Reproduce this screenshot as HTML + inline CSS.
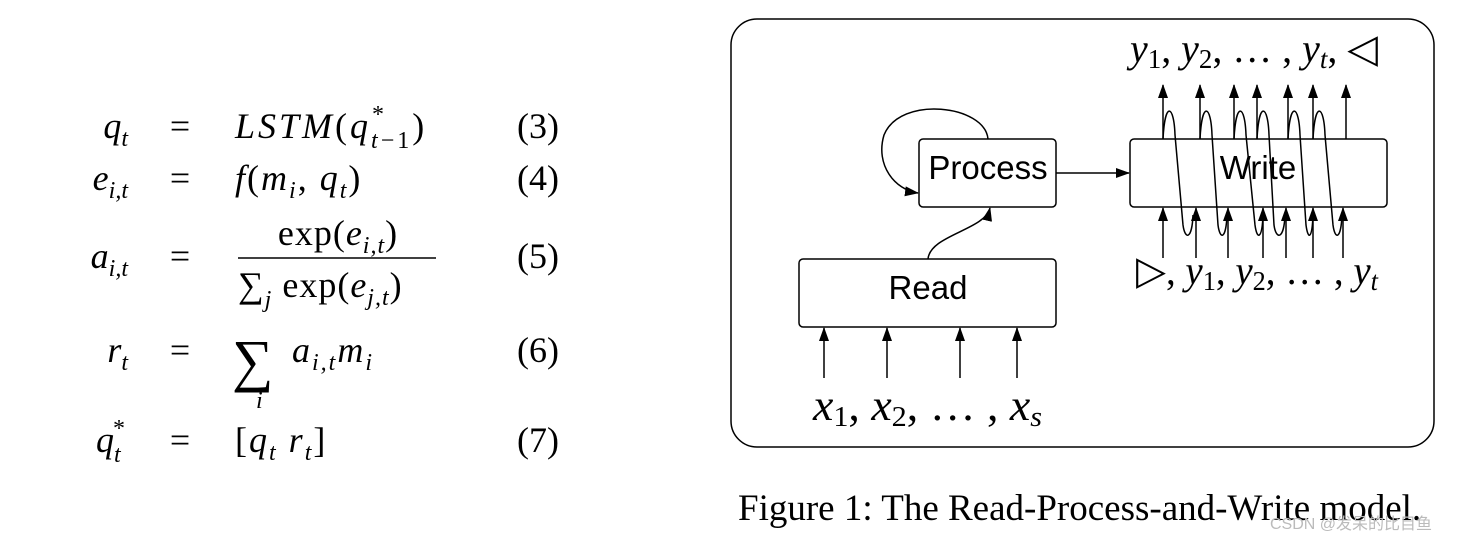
<!DOCTYPE html>
<html><head><meta charset="utf-8"><style>
body{margin:0;background:#fff;width:1484px;height:542px;overflow:hidden}
svg text{font-family:"Liberation Serif",serif}
.i{font-style:italic}
</style></head><body>
<svg width="1484" height="542" viewBox="0 0 1484 542" xmlns="http://www.w3.org/2000/svg">
<defs><marker id="a" markerWidth="14" markerHeight="10" refX="13" refY="5" orient="auto" markerUnits="userSpaceOnUse"><path d="M0,0 L14,5 L0,10 Z" fill="#000"/></marker></defs>
<!-- equations -->
<g font-size="36">
<text x="128" y="138" text-anchor="end" class="i">q<tspan font-size="24" dy="8">t</tspan></text>
<text x="180" y="138" text-anchor="middle">=</text>
<text x="235" y="138" letter-spacing="3"><tspan class="i">LSTM</tspan>(<tspan class="i">q</tspan><tspan font-size="24" dy="10" class="i">t</tspan><tspan font-size="24">−1</tspan><tspan dy="-10">)</tspan></text>
<text x="372" y="122" font-size="24">*</text>
<text x="538" y="138" text-anchor="middle">(3)</text>

<text x="128" y="190" text-anchor="end" class="i">e<tspan font-size="24" dy="8">i,t</tspan></text>
<text x="180" y="190" text-anchor="middle">=</text>
<text x="235" y="190" letter-spacing="2"><tspan class="i">f</tspan>(<tspan class="i">m</tspan><tspan font-size="24" dy="8" class="i">i</tspan><tspan dy="-8">, </tspan><tspan class="i">q</tspan><tspan font-size="24" dy="8" class="i">t</tspan><tspan dy="-8">)</tspan></text>
<text x="538" y="190" text-anchor="middle">(4)</text>

<text x="128" y="268" text-anchor="end" class="i">a<tspan font-size="24" dy="8">i,t</tspan></text>
<text x="180" y="268" text-anchor="middle">=</text>
<text x="338" y="245" text-anchor="middle" letter-spacing="1">exp(<tspan class="i">e</tspan><tspan font-size="24" dy="8" class="i">i,t</tspan><tspan dy="-8">)</tspan></text>
<line x1="238" y1="258" x2="436" y2="258" stroke="#000" stroke-width="1.5"/>
<text x="238" y="297" letter-spacing="1">∑<tspan font-size="24" dy="10" class="i">j</tspan><tspan dy="-10"> exp(</tspan><tspan class="i">e</tspan><tspan font-size="24" dy="8" class="i">j,t</tspan><tspan dy="-8">)</tspan></text>
<text x="538" y="268" text-anchor="middle">(5)</text>

<text x="128" y="362" text-anchor="end" class="i">r<tspan font-size="24" dy="8">t</tspan></text>
<text x="180" y="362" text-anchor="middle">=</text>
<text x="232" y="380" font-size="58">∑</text>
<text x="256" y="408" font-size="24" class="i">i</text>
<text x="292" y="362" letter-spacing="2"><tspan class="i">a</tspan><tspan font-size="24" dy="8" class="i">i,t</tspan><tspan dy="-8" class="i">m</tspan><tspan font-size="24" dy="8" class="i">i</tspan></text>
<text x="538" y="362" text-anchor="middle">(6)</text>

<text x="96" y="452" class="i">q<tspan font-size="24" dy="10">t</tspan></text>
<text x="113" y="436" font-size="24">*</text>
<text x="180" y="452" text-anchor="middle">=</text>
<text x="235" y="452" letter-spacing="2">[<tspan class="i">q</tspan><tspan font-size="24" dy="8" class="i">t</tspan><tspan dy="-8"> </tspan><tspan class="i">r</tspan><tspan font-size="24" dy="8" class="i">t</tspan><tspan dy="-8">]</tspan></text>
<text x="538" y="452" text-anchor="middle">(7)</text>
</g>

<!-- diagram -->
<rect x="731" y="19" width="703" height="428" rx="26" fill="none" stroke="#000" stroke-width="1.5"/>
<g fill="none" stroke="#000" stroke-width="1.5">
<rect x="919" y="139" width="137" height="68" rx="4"/>
<rect x="799" y="259" width="257" height="68" rx="4"/>
<rect x="1130" y="139" width="257" height="68" rx="4"/>
<line x1="824" y1="378" x2="824" y2="328" marker-end="url(#a)"/>
<line x1="887" y1="378" x2="887" y2="328" marker-end="url(#a)"/>
<line x1="960" y1="378" x2="960" y2="328" marker-end="url(#a)"/>
<line x1="1017" y1="378" x2="1017" y2="328" marker-end="url(#a)"/>
<path d="M928,259 C930,235 985,230 990,208" marker-end="url(#a)"/>
<path d="M988,139 C985,105 900,95 884,135 C875,165 895,190 918,193" marker-end="url(#a)"/>
<line x1="1056" y1="173" x2="1129" y2="173" marker-end="url(#a)"/>
<g>
<line x1="1163" y1="139" x2="1163" y2="85" marker-end="url(#a)"/>
<line x1="1200" y1="139" x2="1200" y2="85" marker-end="url(#a)"/>
<line x1="1234" y1="139" x2="1234" y2="85" marker-end="url(#a)"/>
<line x1="1257" y1="139" x2="1257" y2="85" marker-end="url(#a)"/>
<line x1="1288" y1="139" x2="1288" y2="85" marker-end="url(#a)"/>
<line x1="1313" y1="139" x2="1313" y2="85" marker-end="url(#a)"/>
<line x1="1346" y1="139" x2="1346" y2="85" marker-end="url(#a)"/>
<line x1="1163" y1="258" x2="1163" y2="208" marker-end="url(#a)"/>
<line x1="1196" y1="258" x2="1196" y2="208" marker-end="url(#a)"/>
<line x1="1228" y1="258" x2="1228" y2="208" marker-end="url(#a)"/>
<line x1="1263" y1="258" x2="1263" y2="208" marker-end="url(#a)"/>
<line x1="1286" y1="258" x2="1286" y2="208" marker-end="url(#a)"/>
<line x1="1313" y1="258" x2="1313" y2="208" marker-end="url(#a)"/>
<line x1="1343" y1="258" x2="1343" y2="208" marker-end="url(#a)"/>
<path d="M1163,139 C1165,100 1174,105 1175,135 L1183,225 C1185,240 1192,240 1193,215"/>
<path d="M1200,139 C1202,100 1211,105 1212,135 L1218,225 C1220,240 1226,240 1227,215"/>
<path d="M1234,139 C1236,100 1245,105 1246,135 L1255,225 C1257,240 1262,240 1263,215"/>
<path d="M1257,139 C1259,100 1268,105 1269,135 L1274,225 C1276,240 1284,240 1285,215"/>
<path d="M1288,139 C1290,100 1299,105 1300,135 L1306,225 C1308,240 1312,240 1313,215"/>
<path d="M1313,139 C1315,100 1324,105 1325,135 L1333,225 C1335,240 1341,240 1342,215"/>
</g>
</g>
<g font-size="33" text-anchor="middle">
<text x="988" y="179" style="font-family:'Liberation Sans',sans-serif">Process</text>
<text x="928" y="299" style="font-family:'Liberation Sans',sans-serif">Read</text>
<text x="1258" y="179" style="font-family:'Liberation Sans',sans-serif">Write</text>
</g>
<g font-size="40">
<text x="1130" y="62" textLength="248" lengthAdjust="spacingAndGlyphs"><tspan class="i">y</tspan><tspan font-size="27" dy="6">1</tspan><tspan dy="-6">, </tspan><tspan class="i">y</tspan><tspan font-size="27" dy="6">2</tspan><tspan dy="-6">, … , </tspan><tspan class="i">y</tspan><tspan font-size="27" dy="6" class="i">t</tspan><tspan dy="-6">, ◁</tspan></text>
<text x="1136" y="284" textLength="242" lengthAdjust="spacingAndGlyphs">▷, <tspan class="i">y</tspan><tspan font-size="27" dy="6">1</tspan><tspan dy="-6">, </tspan><tspan class="i">y</tspan><tspan font-size="27" dy="6">2</tspan><tspan dy="-6">, … , </tspan><tspan class="i">y</tspan><tspan font-size="27" dy="6" class="i">t</tspan></text>
</g>
<text x="813" y="420" font-size="44" textLength="229" lengthAdjust="spacingAndGlyphs"><tspan class="i">x</tspan><tspan font-size="29" dy="6">1</tspan><tspan dy="-6">, </tspan><tspan class="i">x</tspan><tspan font-size="29" dy="6">2</tspan><tspan dy="-6">, … , </tspan><tspan class="i">x</tspan><tspan font-size="29" dy="6" class="i">s</tspan></text>
<text x="738" y="520" font-size="37">Figure 1: The Read-Process-and-Write model.</text>
<text x="1270" y="529" font-size="16" fill="#bbb" style="font-family:'Liberation Sans','Noto Sans CJK SC',sans-serif">CSDN @发呆的比目鱼</text>
</svg>
</body></html>
